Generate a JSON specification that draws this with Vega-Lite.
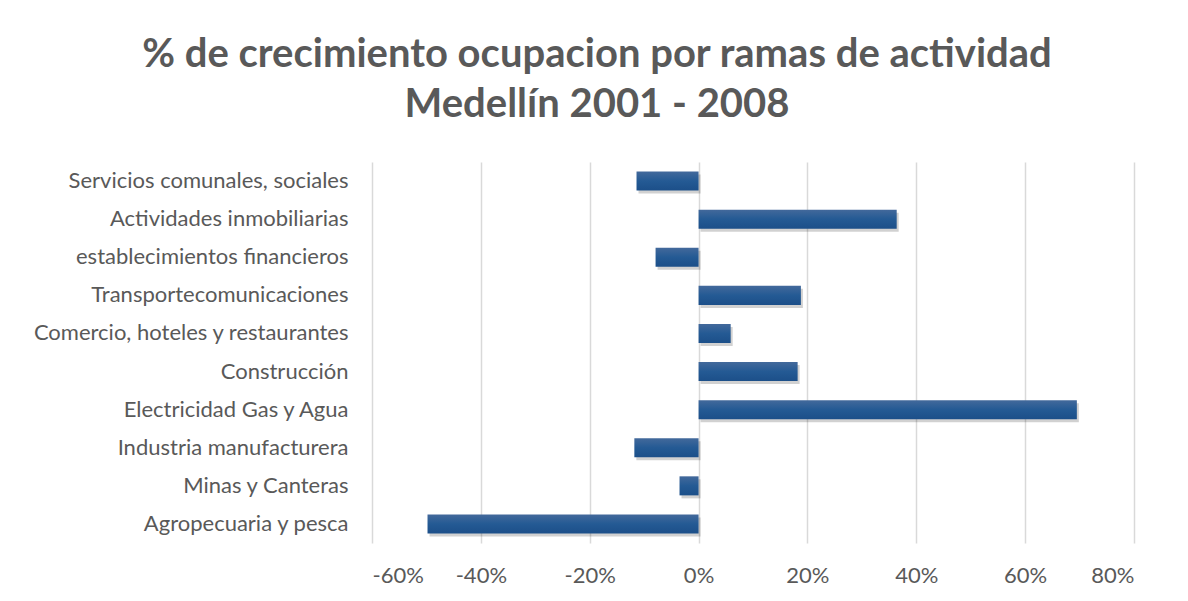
{
  "$schema": "https://vega.github.io/schema/vega-lite/v6.json",
  "autosize": "none",
  "width": 762,
  "height": 381,
  "padding": {"left": 372, "top": 162, "right": 54, "bottom": 58},
  "background": "white",
  "title": {
    "text": ["% de crecimiento ocupacion por ramas de actividad", "Medellín 2001 - 2008"],
    "font": "Lato",
    "fontSize": 40,
    "fontWeight": "bold",
    "color": "#595959",
    "anchor": "middle",
    "dx": -156,
    "offset": 37,
    "lineHeight": 50
  },
  "data": {
    "values": [
      {"rama": "Servicios comunales, sociales", "crecimiento": -0.114},
      {"rama": "Actividades inmobiliarias", "crecimiento": 0.364},
      {"rama": "establecimientos financieros", "crecimiento": -0.079},
      {"rama": "Transportecomunicaciones", "crecimiento": 0.188},
      {"rama": "Comercio, hoteles y restaurantes", "crecimiento": 0.059},
      {"rama": "Construcción", "crecimiento": 0.182},
      {"rama": "Electricidad Gas y Agua", "crecimiento": 0.695},
      {"rama": "Industria manufacturera", "crecimiento": -0.118},
      {"rama": "Minas y Canteras", "crecimiento": -0.035},
      {"rama": "Agropecuaria y pesca", "crecimiento": -0.498}
    ]
  },
  "encoding": {
    "y": {
      "field": "rama",
      "type": "nominal",
      "sort": null,
      "title": null,
      "scale": {"paddingInner": 0.5, "paddingOuter": 0.25},
      "axis": {
        "ticks": false,
        "domain": false,
        "labelFont": "Lato",
        "labelFontSize": 22,
        "labelColor": "#595959",
        "labelPadding": 24,
        "labelLimit": 400
      }
    },
    "x": {
      "field": "crecimiento",
      "type": "quantitative",
      "title": null,
      "scale": {"domain": [-0.6, 0.8], "nice": false, "zero": false},
      "axis": {
        "labelExpr": "round(datum.value * 100) + '%'",
        "values": [-0.6, -0.4, -0.2, 0, 0.2, 0.4, 0.6, 0.8],
        "ticks": false,
        "domain": false,
        "grid": true,
        "gridColor": "#d9d9d9",
        "gridWidth": 1.5,
        "labelFont": "Lato",
        "labelFontSize": 22,
        "labelColor": "#595959",
        "labelPadding": 22
      }
    }
  },
  "layer": [
    {
      "mark": {"type": "bar", "color": "#000000", "opacity": 0.18, "xOffset": 2, "yOffset": 3}
    },
    {
      "mark": {
        "type": "bar",
        "color": {
          "gradient": "linear",
          "x1": 0, "y1": 0, "x2": 0, "y2": 1,
          "stops": [
            {"offset": 0, "color": "#43699b"},
            {"offset": 0.5, "color": "#245a94"},
            {"offset": 1, "color": "#1c4f89"}
          ]
        }
      }
    }
  ],
  "config": {
    "view": {"stroke": null}
  }
}
